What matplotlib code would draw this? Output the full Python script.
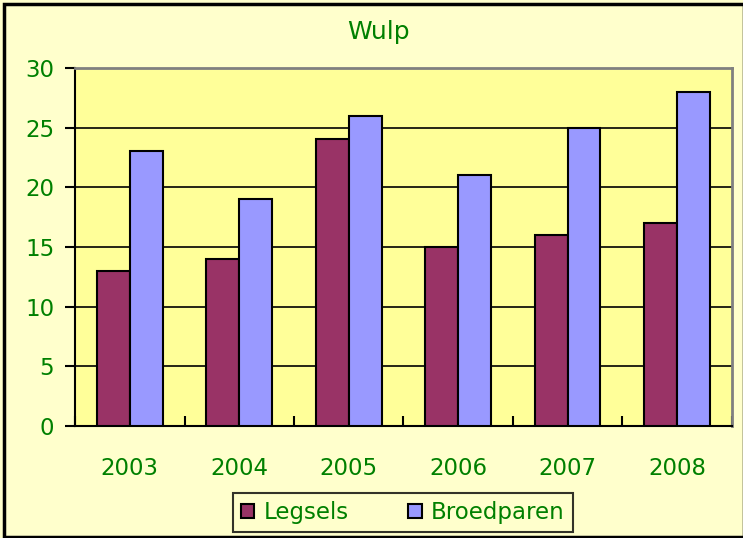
import matplotlib
matplotlib.use("Agg")
import matplotlib.pyplot as plt
import numpy as np
from matplotlib.patches import Rectangle

years = ["2003", "2004", "2005", "2006", "2007", "2008"]
legsels = [13, 14, 24, 15, 16, 17]
broedparen = [23, 19, 26, 21, 25, 28]
title = "Wulp"
green = "#008000"

plt.rcParams['font.family'] = ['DejaVu Sans']
fig = plt.figure(figsize=(7.43, 5.38), dpi=100, facecolor="#FFFFCC")
fig.patches.append(Rectangle((0.006, 0.002), 0.995, 0.99, transform=fig.transFigure,
                             fill=False, edgecolor="black", linewidth=2.5, zorder=10))
ax = fig.add_axes([0.101, 0.208, 0.884, 0.666])
ax.set_facecolor("#FFFF99")

x = np.arange(len(years))
w = 0.3
ax.bar(x - w/2, legsels, w, color="#993366", edgecolor="black", linewidth=1.5, label="Legsels", zorder=3)
ax.bar(x + w/2, broedparen, w, color="#9999FF", edgecolor="black", linewidth=1.5, label="Broedparen", zorder=3)

ax.set_xlim(-0.5, len(years) - 0.5)
ax.set_ylim(0, 30)
ax.set_yticks(range(0, 31, 5))
ax.yaxis.grid(True, color="black", linewidth=1.2, zorder=1)
ax.set_axisbelow(True)
ax.set_xticks(x)
ax.set_xticklabels(years)
ax.set_xticks(np.arange(-0.5, len(years), 1), minor=True)
ax.tick_params(axis='x', which='major', length=0, pad=22, labelsize=16.5, labelcolor=green)
ax.tick_params(axis='x', which='minor', direction='in', length=7, width=1.5)
ax.tick_params(axis='y', direction='out', length=7, width=1.5, labelsize=16.5, labelcolor=green, pad=8)

for s in ['top', 'right']:
    ax.spines[s].set_color("#808080")
    ax.spines[s].set_linewidth(2)
for s in ['left', 'bottom']:
    ax.spines[s].set_color("black")
    ax.spines[s].set_linewidth(1.5)

fig.text(0.51, 0.94, title, ha='center', va='center', fontsize=18, color=green)

leg = fig.legend(loc='center', bbox_to_anchor=(0.542, 0.047), ncol=2, fontsize=16.5,
                 frameon=True, fancybox=False, edgecolor="black", facecolor="#FFFFCC",
                 handlelength=0.6, handleheight=0.6, handletextpad=0.4, columnspacing=2.6,
                 borderpad=0.35, borderaxespad=0.2)
leg.get_frame().set_linewidth(1.5)
for t in leg.get_texts():
    t.set_color(green)

fig.savefig("out.png", dpi=100, facecolor=fig.get_facecolor())
